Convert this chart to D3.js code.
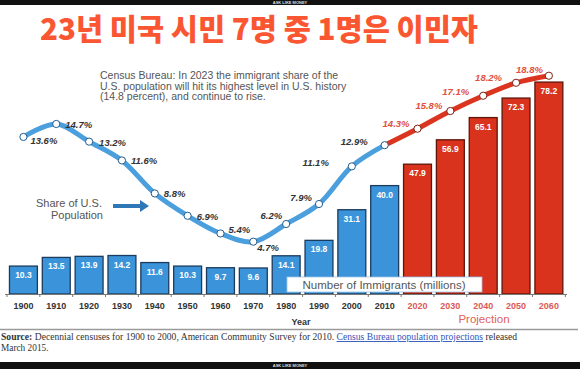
<!DOCTYPE html>
<html>
<head>
<meta charset="utf-8">
<script src="https://cdn.jsdelivr.net/npm/d3@7"></script>
<style>
  html, body { margin: 0; padding: 0; background: #fff; }
  svg { display: block; }
</style>
</head>
<body>
<div id="chart"></div>
<script>
// chart data
const years = ['1900', '1910', '1920', '1930', '1940', '1950', '1960', '1970', '1980',
  '1990', '2000', '2010', '2020', '2030', '2040', '2050', '2060'];
const immigrants = [10.3, 13.5, 13.9, 14.2, 11.6, 10.3, 9.7, 9.6, 14.1, 19.8, 31.1, 40.0,
  47.9, 56.9, 65.1, 72.3, 78.2];
const sharePct = [13.6, 14.7, 13.2, 11.6, 8.8, 6.9, 5.4, 4.7, 6.2, 7.9, 11.1, 12.9,
  14.3, 15.8, 17.1, 18.2, 18.8];
const projectionYears = ['2020', '2030', '2040', '2050', '2060'];

const titleText = '23년 미국 시민 7명 중 1명은 이민자';
const noteLines = [
  'Census Bureau: In 2023 the immigrant share of the',
  'U.S. population will hit its highest level in U.S. history',
  '(14.8 percent), and continue to rise.'
];

// label placement for the percent labels: [dx, dy, anchor]
const pctLabelPos = [
  [7, 7, 'start'], [9, 4, 'start'], [10, 4, 'start'], [9, 4, 'start'], [9, 4, 'start'],
  [9, 4, 'start'], [8, 0, 'start'], [4, 9, 'start'], [-4, -5, 'end'], [-7, -3, 'end'],
  [-23, 0, 'end'], [-17, 0, 'end'], [-8, -2, 'end'], [-8, -2, 'end'], [-14, -1, 'end'],
  [-14, -2, 'end'], [-6, -3, 'end']
];

const W = 580, H = 369;
const blue = '#3b94d9', red = '#d9321d';

const svg = d3.select('#chart').append('svg')
  .attr('width', W).attr('height', H)
  .style('font-family', '"Liberation Sans", Arial, sans-serif');

// top / bottom black strips
svg.append('rect').attr('x', 0).attr('y', 0).attr('width', W).attr('height', 5).attr('fill', '#111');
svg.append('rect').attr('x', 0).attr('y', 362).attr('width', W).attr('height', 7).attr('fill', '#111');
[3.6, 367].forEach(y => {
  svg.append('text').attr('x', 290).attr('y', y).attr('text-anchor', 'middle')
    .attr('font-size', 4).attr('font-weight', 'bold').attr('fill', '#ddd')
    .text('ASK LIKE MONEY');
});

// title
svg.append('text')
  .attr('x', 40).attr('y', 40)
  .attr('textLength', 438).attr('lengthAdjust', 'spacingAndGlyphs')
  .style('font-family', '"Noto Sans CJK KR", sans-serif')
  .style('font-weight', 900)
  .style('font-size', '30px')
  .attr('fill', '#fb5632')
  .text(titleText);

// scales
const x = d3.scaleBand()
  .domain(years)
  .range([7, 565.3])
  .paddingInner(0.15)
  .paddingOuter(0.075);

const yBar = d3.scaleLinear().domain([0, 80]).range([294, 77.2]);
const yPct = d3.scaleLinear().domain([0, 20]).range([297, 61.6]);

const isProj = d => projectionYears.includes(d);

// bars
const barData = years.map((y, i) => ({ year: y, value: immigrants[i] }));
svg.append('g').selectAll('rect')
  .data(barData)
  .join('rect')
  .attr('x', d => x(d.year))
  .attr('y', d => yBar(d.value))
  .attr('width', x.bandwidth())
  .attr('height', d => yBar(0) - yBar(d.value))
  .attr('fill', d => isProj(d.year) ? red : blue)
  .attr('stroke', d => isProj(d.year) ? '#5e1509' : '#1c3b5e')
  .attr('stroke-width', 1.3);

svg.append('g').selectAll('text')
  .data(barData)
  .join('text')
  .attr('x', d => x(d.year) + x.bandwidth() / 2)
  .attr('y', d => yBar(d.value) + 12)
  .attr('text-anchor', 'middle')
  .attr('font-size', 8.5)
  .attr('font-weight', 'bold')
  .attr('fill', '#fff')
  .text(d => d.value.toFixed(1));

// "Number of Immigrants" box
svg.append('rect')
  .attr('x', 287).attr('y', 277).attr('width', 195).attr('height', 15)
  .attr('fill', '#fff').attr('stroke', '#9cc3e6').attr('stroke-width', 0.8);
svg.append('text')
  .attr('x', 384).attr('y', 288.5).attr('text-anchor', 'middle')
  .attr('font-size', 11.5).attr('fill', '#555')
  .text('Number of Immigrants (millions)');

// x axis
const axis = svg.append('g')
  .attr('transform', `translate(0,${yBar(0)})`)
  .call(d3.axisBottom(x).tickSize(0).tickPadding(9));
axis.select('.domain').attr('stroke', '#777').attr('stroke-width', 1)
  .attr('d', 'M5,0.5H567');
axis.selectAll('text')
  .attr('font-size', 9)
  .attr('font-weight', 'bold')
  .style('font-family', '"Liberation Sans", Arial, sans-serif')
  .attr('fill', d => isProj(d) ? '#dc5a55' : '#333');
// ticks between bands
const edge = (d, i) => i < years.length
  ? x(d) - x.step() * 0.075
  : x(years[years.length - 1]) + x.bandwidth() + x.step() * 0.075;
axis.append('g').selectAll('line')
  .data(years.concat(['end']))
  .join('line')
  .attr('x1', edge)
  .attr('x2', edge)
  .attr('y1', 0).attr('y2', 3)
  .attr('stroke', '#777');

svg.append('text').attr('x', 301).attr('y', 325).attr('text-anchor', 'middle')
  .attr('font-size', 9).attr('font-weight', 'bold').attr('fill', '#333').text('Year');
svg.append('text').attr('x', 484).attr('y', 323).attr('text-anchor', 'middle')
  .attr('font-size', 11.5).attr('fill', '#e0605a').text('Projection');

// share line
const pts = years.map((y, i) => ({ year: y, v: sharePct[i], i }));
const line = d3.line()
  .x(d => x(d.year) + x.bandwidth() / 2)
  .y(d => yPct(d.v))
  .curve(d3.curveCatmullRom.alpha(0.5));
const lastHist = years.indexOf('2010');
svg.append('path').datum(pts.slice(0, lastHist + 1))
  .attr('d', line).attr('fill', 'none').attr('stroke', '#4b9fdd')
  .attr('stroke-width', 5).attr('stroke-linejoin', 'round').attr('stroke-linecap', 'round');
svg.append('path').datum(pts.slice(lastHist))
  .attr('d', line).attr('fill', 'none').attr('stroke', '#db3520')
  .attr('stroke-width', 5).attr('stroke-linejoin', 'round').attr('stroke-linecap', 'round');

svg.append('g').selectAll('circle')
  .data(pts)
  .join('circle')
  .attr('cx', d => x(d.year) + x.bandwidth() / 2)
  .attr('cy', d => yPct(d.v))
  .attr('r', 3.6)
  .attr('fill', '#fff')
  .attr('stroke', d => d.i > lastHist ? '#7a2014' : '#245d8f')
  .attr('stroke-width', 1);

svg.append('g').selectAll('text')
  .data(pts)
  .join('text')
  .attr('x', d => x(d.year) + x.bandwidth() / 2 + pctLabelPos[d.i][0])
  .attr('y', d => yPct(d.v) + pctLabelPos[d.i][1])
  .attr('text-anchor', d => pctLabelPos[d.i][2])
  .attr('font-size', 9.5)
  .attr('font-weight', 'bold')
  .attr('font-style', 'italic')
  .attr('fill', d => d.i > lastHist ? '#df5040' : '#333')
  .text(d => d.v.toFixed(1) + '%');

// annotation
svg.append('g').selectAll('text')
  .data(noteLines)
  .join('text')
  .attr('x', 100)
  .attr('y', (d, i) => 79 + i * 10.5)
  .attr('font-size', 10.5)
  .attr('fill', '#555')
  .text(d => d);

// share label + arrow
svg.append('text').attr('x', 69).attr('y', 207).attr('text-anchor', 'middle')
  .attr('font-size', 11).attr('fill', '#555').text('Share of U.S.');
svg.append('text').attr('x', 77).attr('y', 219).attr('text-anchor', 'middle')
  .attr('font-size', 11).attr('fill', '#555').text('Population');
svg.append('path')
  .attr('d', 'M113,204H140V200L149,206L140,212V208H113Z')
  .attr('fill', '#2f78b8');

// separator + source
svg.append('line').attr('x1', 0).attr('x2', 578).attr('y1', 329.5).attr('y2', 329.5)
  .attr('stroke', '#9a9a9a').attr('stroke-width', 1.5);

const src = svg.append('text').attr('x', 1).attr('y', 340)
  .style('font-family', '"Liberation Serif", "DejaVu Serif", serif')
  .attr('font-size', 9.3).attr('fill', '#333')
  .attr('textLength', 516).attr('lengthAdjust', 'spacingAndGlyphs');
src.append('tspan').attr('font-weight', 'bold').text('Source:');
src.append('tspan').text(' Decennial censuses for 1900 to 2000, American Community Survey for 2010. ');
src.append('tspan').attr('fill', '#3355bb').attr('text-decoration', 'underline')
  .text('Census Bureau population projections');
src.append('tspan').text(' released');
svg.append('text').attr('x', 1).attr('y', 350.5)
  .style('font-family', '"Liberation Serif", "DejaVu Serif", serif')
  .attr('font-size', 9.3).attr('fill', '#333')
  .text('March 2015.');
</script>
</body>
</html>
